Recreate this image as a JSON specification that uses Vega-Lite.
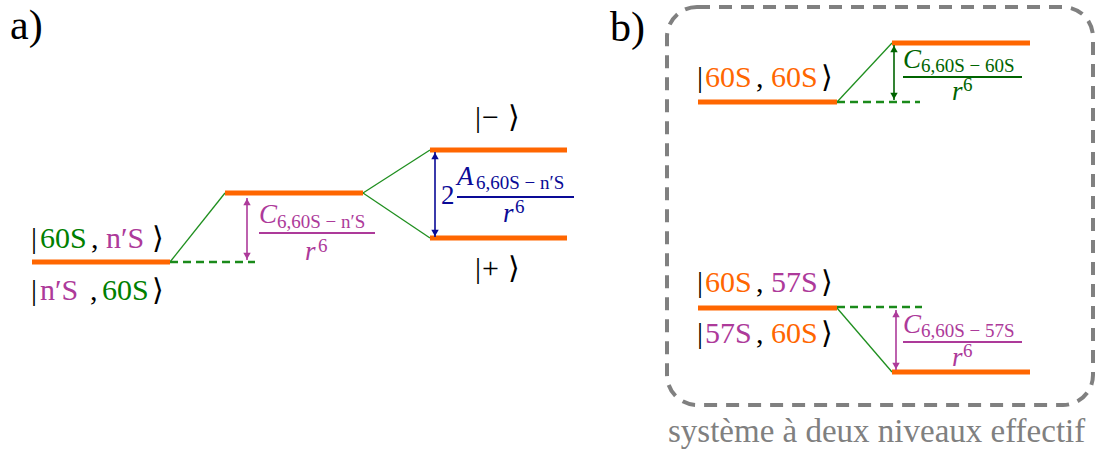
{
  "$schema": "https://vega.github.io/schema/vega-lite/v6.json",
  "width": 1099,
  "height": 455,
  "autosize": {"type": "fit", "contains": "padding"},
  "padding": 0,
  "background": "white",
  "config": {"view": {"stroke": null}},
  "layer": [
    {
      "data": {"values": [{"x": 667, "x2": 1093, "y": 7, "y2": 405}]},
      "mark": {"type": "rect", "fill": null, "fillOpacity": 0, "stroke": "#808080", "strokeWidth": 4, "strokeDash": [13, 9], "cornerRadius": 30},
      "encoding": {
        "x": {"field": "x", "type": "quantitative", "scale": {"domain": [0, 1099], "nice": false, "zero": false}, "axis": null},
        "x2": {"field": "x2"},
        "y": {"field": "y", "type": "quantitative", "scale": {"domain": [455, 0], "nice": false, "zero": false}, "axis": null},
        "y2": {"field": "y2"}
      }
    },
    {
      "data": {"values": [
        {"x": 170, "y": 262, "x2": 225, "y2": 193},
        {"x": 363, "y": 193, "x2": 430, "y2": 150},
        {"x": 363, "y": 193, "x2": 430, "y2": 238},
        {"x": 837, "y": 102, "x2": 892, "y2": 43},
        {"x": 837, "y": 308, "x2": 892, "y2": 372}
      ]},
      "mark": {"type": "rule", "color": "#1f8f1f", "strokeWidth": 1.3},
      "encoding": {
        "x": {"field": "x", "type": "quantitative"},
        "x2": {"field": "x2"},
        "y": {"field": "y", "type": "quantitative"},
        "y2": {"field": "y2"}
      }
    },
    {
      "data": {"values": [
        {"x": 170, "x2": 255, "y": 262},
        {"x": 837, "x2": 920, "y": 102},
        {"x": 837, "x2": 922, "y": 307}
      ]},
      "mark": {"type": "rule", "color": "#1a8a1a", "strokeWidth": 2.5, "strokeDash": [8, 5]},
      "encoding": {
        "x": {"field": "x", "type": "quantitative"},
        "x2": {"field": "x2"},
        "y": {"field": "y", "type": "quantitative"}
      }
    },
    {
      "data": {"values": [
        {"x": 32, "x2": 170, "y": 262},
        {"x": 225, "x2": 363, "y": 193},
        {"x": 430, "x2": 567, "y": 150},
        {"x": 430, "x2": 567, "y": 238},
        {"x": 698, "x2": 837, "y": 102},
        {"x": 892, "x2": 1030, "y": 43},
        {"x": 698, "x2": 837, "y": 308},
        {"x": 892, "x2": 1030, "y": 372}
      ]},
      "mark": {"type": "rule", "color": "#ff6600", "strokeWidth": 5},
      "encoding": {
        "x": {"field": "x", "type": "quantitative"},
        "x2": {"field": "x2"},
        "y": {"field": "y", "type": "quantitative"}
      }
    },
    {
      "data": {"values": [
        {"tone": "C 60S−n′S", "x": 247, "y": 198, "y2": 260},
        {"tone": "A 60S−n′S", "x": 435, "y": 152, "y2": 237},
        {"tone": "C 60S−60S", "x": 894, "y": 45, "y2": 100},
        {"tone": "C 60S−57S", "x": 896, "y": 310, "y2": 370}
      ]},
      "layer": [
        {"mark": {"type": "rule", "strokeWidth": 1.6},
         "encoding": {"x": {"field": "x", "type": "quantitative"}, "y": {"field": "y", "type": "quantitative"}, "y2": {"field": "y2"},
           "color": {"field": "tone", "type": "nominal", "legend": null,
             "scale": {"domain": ["ket", "60S a", "n′S", "60S b", "57S", "C 60S−n′S", "A 60S−n′S", "C 60S−60S", "C 60S−57S", "caption"],
                       "range": ["#000000", "#008000", "#ad3a9a", "#ff6600", "#ad3a9a", "#ad3a9a", "#0a0a96", "#006400", "#ad3a9a", "#808080"]}}}},
        {"mark": {"type": "point", "shape": "triangle-up", "filled": true, "size": 55, "opacity": 1, "yOffset": 4},
         "encoding": {"x": {"field": "x", "type": "quantitative"}, "y": {"field": "y", "type": "quantitative"}, "color": {"field": "tone", "type": "nominal", "legend": null}}},
        {"mark": {"type": "point", "shape": "triangle-down", "filled": true, "size": 55, "opacity": 1, "yOffset": -4},
         "encoding": {"x": {"field": "x", "type": "quantitative"}, "y": {"field": "y2", "type": "quantitative"}, "color": {"field": "tone", "type": "nominal", "legend": null}}}
      ]
    },
    {
      "data": {"values": [
        {"tone": "C 60S−n′S", "x": 259, "x2": 375, "y": 233},
        {"tone": "A 60S−n′S", "x": 457, "x2": 574, "y": 197},
        {"tone": "C 60S−60S", "x": 903, "x2": 1022, "y": 77},
        {"tone": "C 60S−57S", "x": 903, "x2": 1022, "y": 342}
      ]},
      "mark": {"type": "rule", "strokeWidth": 2.2},
      "encoding": {
        "x": {"field": "x", "type": "quantitative"},
        "x2": {"field": "x2"},
        "y": {"field": "y", "type": "quantitative"},
        "color": {"field": "tone", "type": "nominal", "legend": null}
      }
    },
    {
      "data": {"values": [
        {"t": "|", "x": 31, "y": 239, "tone": "ket"},
        {"t": "60S", "x": 40, "y": 239, "tone": "60S a"},
        {"t": ",", "x": 91, "y": 239, "tone": "ket"},
        {"t": "n′S", "x": 106, "y": 239, "tone": "n′S"},
        {"t": "⟩", "x": 152, "y": 239, "tone": "ket"},
        {"t": "|", "x": 31, "y": 291, "tone": "ket"},
        {"t": "n′S", "x": 40, "y": 291, "tone": "n′S"},
        {"t": ",", "x": 90, "y": 291, "tone": "ket"},
        {"t": "60S", "x": 102, "y": 291, "tone": "60S a"},
        {"t": "⟩", "x": 152, "y": 291, "tone": "ket"},
        {"t": "|", "x": 475, "y": 118, "tone": "ket"},
        {"t": "−", "x": 482, "y": 118, "tone": "ket"},
        {"t": "⟩", "x": 508, "y": 118, "tone": "ket"},
        {"t": "|", "x": 475, "y": 269, "tone": "ket"},
        {"t": "+", "x": 482, "y": 269, "tone": "ket"},
        {"t": "⟩", "x": 508, "y": 269, "tone": "ket"},
        {"t": "|", "x": 697, "y": 78, "tone": "ket"},
        {"t": "60S", "x": 705, "y": 78, "tone": "60S b"},
        {"t": ",", "x": 756, "y": 78, "tone": "ket"},
        {"t": "60S", "x": 771, "y": 78, "tone": "60S b"},
        {"t": "⟩", "x": 821, "y": 78, "tone": "ket"},
        {"t": "|", "x": 697, "y": 283, "tone": "ket"},
        {"t": "60S", "x": 705, "y": 283, "tone": "60S b"},
        {"t": ",", "x": 756, "y": 283, "tone": "ket"},
        {"t": "57S", "x": 771, "y": 283, "tone": "57S"},
        {"t": "⟩", "x": 821, "y": 283, "tone": "ket"},
        {"t": "|", "x": 697, "y": 334, "tone": "ket"},
        {"t": "57S", "x": 705, "y": 334, "tone": "57S"},
        {"t": ",", "x": 756, "y": 334, "tone": "ket"},
        {"t": "60S", "x": 771, "y": 334, "tone": "60S b"},
        {"t": "⟩", "x": 821, "y": 334, "tone": "ket"}
      ]},
      "mark": {"type": "text", "font": "Liberation Serif", "fontSize": 30, "align": "left"},
      "encoding": {
        "x": {"field": "x", "type": "quantitative"},
        "y": {"field": "y", "type": "quantitative"},
        "text": {"field": "t"},
        "color": {"field": "tone", "type": "nominal", "legend": null}
      }
    },
    {
      "data": {"values": [
        {"t": "C", "x": 259, "y": 215, "tone": "C 60S−n′S"},
        {"t": "r", "x": 305, "y": 252, "tone": "C 60S−n′S"},
        {"t": "A", "x": 457, "y": 177, "tone": "A 60S−n′S"},
        {"t": "r", "x": 503, "y": 214, "tone": "A 60S−n′S"},
        {"t": "C", "x": 903, "y": 60, "tone": "C 60S−60S"},
        {"t": "r", "x": 952, "y": 92, "tone": "C 60S−60S"},
        {"t": "C", "x": 903, "y": 325, "tone": "C 60S−57S"},
        {"t": "r", "x": 952, "y": 358, "tone": "C 60S−57S"}
      ]},
      "mark": {"type": "text", "font": "Liberation Serif", "fontStyle": "italic", "fontSize": 27, "align": "left"},
      "encoding": {
        "x": {"field": "x", "type": "quantitative"},
        "y": {"field": "y", "type": "quantitative"},
        "text": {"field": "t"},
        "color": {"field": "tone", "type": "nominal", "legend": null}
      }
    },
    {
      "data": {"values": [
        {"t": "6,60S − n′S", "x": 277, "y": 222, "tone": "C 60S−n′S"},
        {"t": "6", "x": 318, "y": 246, "tone": "C 60S−n′S"},
        {"t": "6,60S − n′S", "x": 476, "y": 183, "tone": "A 60S−n′S"},
        {"t": "6", "x": 515, "y": 207, "tone": "A 60S−n′S"},
        {"t": "6,60S − 60S", "x": 921, "y": 66, "tone": "C 60S−60S"},
        {"t": "6", "x": 963, "y": 85, "tone": "C 60S−60S"},
        {"t": "6,60S − 57S", "x": 921, "y": 331, "tone": "C 60S−57S"},
        {"t": "6", "x": 963, "y": 351, "tone": "C 60S−57S"}
      ]},
      "mark": {"type": "text", "font": "Liberation Serif", "fontSize": 19, "align": "left"},
      "encoding": {
        "x": {"field": "x", "type": "quantitative"},
        "y": {"field": "y", "type": "quantitative"},
        "text": {"field": "t"},
        "color": {"field": "tone", "type": "nominal", "legend": null}
      }
    },
    {
      "data": {"values": [
        {"t": "2", "x": 441, "y": 196, "tone": "A 60S−n′S"}
      ]},
      "mark": {"type": "text", "font": "Liberation Serif", "fontSize": 27, "align": "left"},
      "encoding": {
        "x": {"field": "x", "type": "quantitative"},
        "y": {"field": "y", "type": "quantitative"},
        "text": {"field": "t"},
        "color": {"field": "tone", "type": "nominal", "legend": null}
      }
    },
    {
      "data": {"values": [
        {"t": "a)", "x": 10, "y": 26},
        {"t": "b)", "x": 610, "y": 28}
      ]},
      "mark": {"type": "text", "font": "Liberation Serif", "fontSize": 42, "align": "left", "color": "#000000"},
      "encoding": {
        "x": {"field": "x", "type": "quantitative"},
        "y": {"field": "y", "type": "quantitative"},
        "text": {"field": "t"}
      }
    },
    {
      "data": {"values": [
        {"t": "système à deux niveaux effectif", "x": 668, "y": 432, "tone": "caption"}
      ]},
      "mark": {"type": "text", "font": "Liberation Serif", "fontSize": 33, "align": "left"},
      "encoding": {
        "x": {"field": "x", "type": "quantitative"},
        "y": {"field": "y", "type": "quantitative"},
        "text": {"field": "t"},
        "color": {"field": "tone", "type": "nominal", "legend": null}
      }
    }
  ]
}
